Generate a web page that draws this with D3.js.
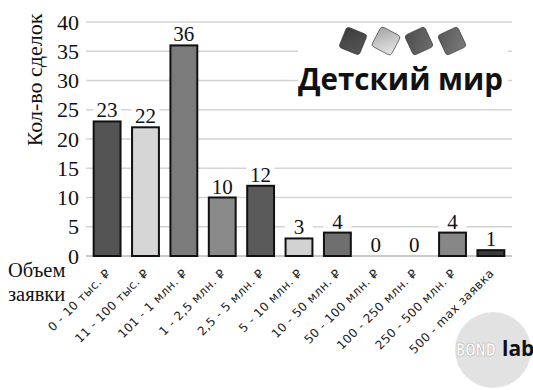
<!DOCTYPE html>
<html><head><meta charset="utf-8">
<script src="https://cdn.jsdelivr.net/npm/d3@7"></script>
<style>
html,body{margin:0;padding:0;background:#fff;}
svg{display:block;}
</style></head>
<body>
<svg id="chart" width="533" height="390"></svg>
<script>
const categories = ["0 - 10 тыс. ₽","11 - 100 тыс. ₽","101 - 1 млн. ₽","1 - 2,5 млн. ₽","2,5 - 5 млн. ₽","5 - 10 млн. ₽","10 - 50 млн. ₽","50 - 100 млн. ₽","100 - 250 млн. ₽","250 - 500 млн. ₽","500 - max заявка"];
const values = [23,22,36,10,12,3,4,0,0,4,1];
const yTicks = [0,5,10,15,20,25,30,35,40];
const yTitle = "Кол-во сделок";
const xTitle = ["Объем","заявки"];
const logoText = "Детский мир";

const palette = ["#545454","#d6d6d6","#7b7b7b","#8a8a8a","#5a5a5a","#d2d2d2","#6f6f6f","#888","#888","#878787","#3a3a3a"];
const squareColors = ["#4a4a4a","#c8c8c8","#5e5e5e","#6a6a6a"];

const svg = d3.select("#chart");
const serif = "'Liberation Serif', 'Times New Roman', serif";
const margin = {left:86, right:21, top:22, bottom:134};
const W = 533, H = 390;

const x = d3.scaleBand().domain(categories).range([margin.left, W - margin.right]).paddingInner(0.3).paddingOuter(0.2);
const y = d3.scaleLinear().domain([0,40]).range([H - margin.bottom, margin.top]);

// gridlines
svg.append("g").selectAll("line").data(yTicks.filter(d=>d>0)).join("line")
  .attr("x1", margin.left).attr("x2", W - margin.right)
  .attr("y1", d=>y(d)).attr("y2", d=>y(d))
  .attr("stroke", "#d4d4d4").attr("stroke-width", 1.5);

// y tick labels
svg.append("g").selectAll("text").data(yTicks).join("text")
  .attr("x", 79).attr("y", d=>y(d)).attr("dy","0.35em")
  .attr("text-anchor","end")
  .style("font-family", serif).style("font-size","22px").attr("fill","#111")
  .text(d=>d);

// logo white box
svg.append("rect").attr("x",298).attr("y",30).attr("width",210).attr("height",72).attr("fill","#fff");

// logo squares
const defs = svg.append("defs");
squareColors.forEach((c,i)=>{
  const g = defs.append("linearGradient").attr("id","sq"+i).attr("x1","0").attr("y1","0").attr("x2","1").attr("y2","1");
  g.append("stop").attr("offset","0").attr("stop-color", d3.color(c).darker(0.6));
  g.append("stop").attr("offset","0.5").attr("stop-color", c);
  g.append("stop").attr("offset","1").attr("stop-color", d3.color(c).brighter(0.4));
});
const sqX = d3.scalePoint().domain(d3.range(4)).range([353,452]);
svg.append("g").selectAll("rect").data(squareColors).join("rect")
  .attr("x",-11).attr("y",-11).attr("width",22).attr("height",22).attr("rx",3)
  .attr("transform",(d,i)=>`translate(${sqX(i)},41) rotate(${i===0?22:(i===1?28:-25)})`)
  .attr("fill",(d,i)=>`url(#sq${i})`).attr("stroke","#333").attr("stroke-width",0.6);
svg.append("text").attr("x",298).attr("y",90)
  .attr("textLength",205).attr("lengthAdjust","spacingAndGlyphs")
  .style("font-family","'Open Sans', 'DejaVu Sans', sans-serif").style("font-weight","bold").style("font-size","31px")
  .attr("fill","#111").text(logoText);

// baseline
svg.append("line").attr("x1",margin.left).attr("x2",W - margin.right)
  .attr("y1",y(0)).attr("y2",y(0)).attr("stroke","#b8b8b8").attr("stroke-width",1.5);

// bars
svg.append("g").selectAll("rect").data(values).join("rect")
  .attr("x",(d,i)=>x(categories[i])).attr("width",x.bandwidth())
  .attr("y",d=>y(d)).attr("height",d=>y(0)-y(d))
  .attr("fill",(d,i)=>palette[i])
  .attr("stroke",(d)=>d>0?"#111":"none").attr("stroke-width",2);

// value labels with white background
const lab = svg.append("g").selectAll("g").data(values).join("g")
  .attr("transform",(d,i)=>`translate(${x(categories[i])+x.bandwidth()/2},${y(d)-4})`);
lab.append("rect").attr("x",-14).attr("y",-17).attr("width",28).attr("height",16).attr("fill","#fff");
lab.append("text").attr("text-anchor","middle")
  .style("font-family", serif).style("font-size","21px").attr("fill","#111")
  .text(d=>d);

// x labels
svg.append("g").selectAll("text").data(categories).join("text")
  .attr("transform",d=>`translate(${x(d)+x.bandwidth()/2+1},271) rotate(-45)`)
  .attr("dy","0.35em").attr("text-anchor","end")
  .style("font-family","'DejaVu Sans', 'Noto Sans', sans-serif").style("font-size","12px")
  .style("letter-spacing","0.4px").attr("fill","#222")
  .text(d=>d);

// axis titles
svg.append("text").attr("transform","translate(42,80) rotate(-90)")
  .attr("text-anchor","middle")
  .style("font-family", serif).style("font-size","22px").attr("fill","#111").text(yTitle);
svg.append("g").selectAll("text").data(xTitle).join("text")
  .attr("x",8).attr("y",(d,i)=>277+i*23.5)
  .style("font-family", serif).style("font-size","20.5px").attr("fill","#111").text(d=>d);

// BONDlab badge
svg.append("circle").attr("cx",493).attr("cy",350).attr("r",38).attr("fill","#e2e2e2");
svg.append("text").attr("transform","translate(456,356) scale(1,1.3)")
  .style("font-family","'DejaVu Sans Condensed', 'DejaVu Sans', sans-serif").style("font-weight","bold").style("font-size","13.5px")
  .attr("fill","#fff").attr("stroke","#b0b0b0").attr("stroke-width",0.5).text("BOND");
svg.append("text").attr("x",502).attr("y",356)
  .style("font-family","'Open Sans', sans-serif").style("font-weight","bold").style("font-size","21px")
  .attr("fill","#111").text("lab");
</script>
</body></html>
